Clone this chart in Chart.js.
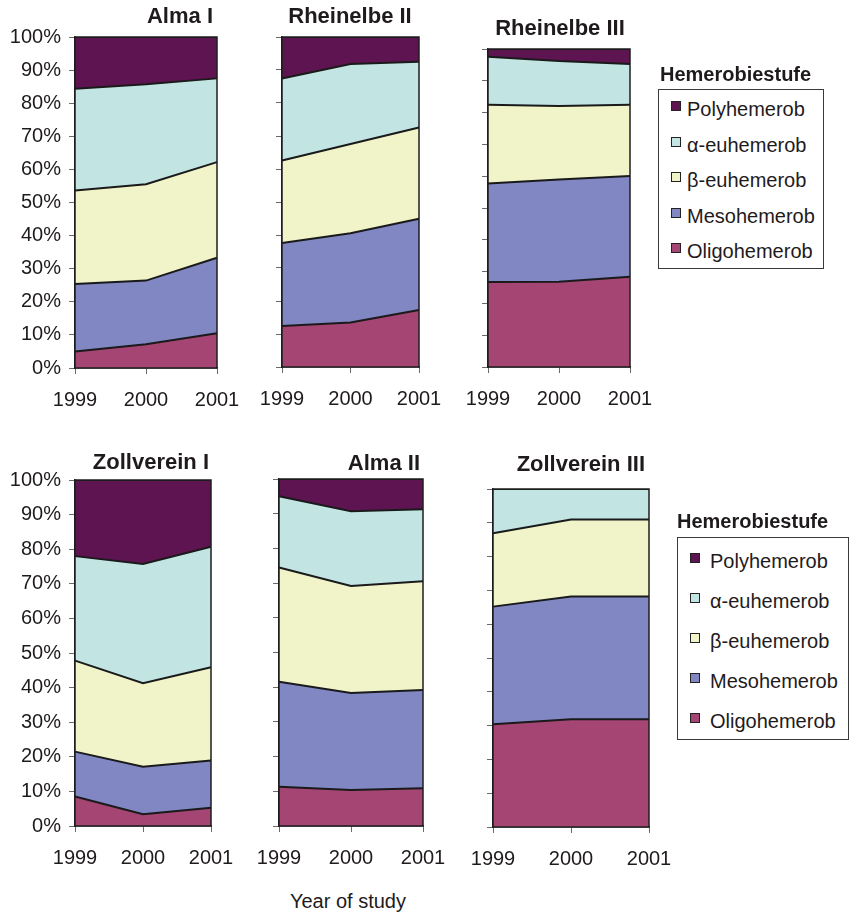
<!DOCTYPE html>
<html>
<head>
<meta charset="utf-8">
<script src="https://cdn.jsdelivr.net/npm/chart.js@4/dist/chart.umd.min.js"></script>
<style>
  html, body { margin: 0; padding: 0; background: #fff; }
  body { width: 850px; height: 916px; position: relative; overflow: hidden;
         font-family: "Liberation Sans", Arial, sans-serif; color: #1f1b1c; }
  canvas { position: absolute; }
  .txt { position: absolute; white-space: nowrap; line-height: 1; }
  .ttl { font-weight: bold; font-size: 22px; }
  .legbox { position: absolute; border: 1px solid #3a3a3a; background: #fff; box-sizing: border-box; }
  .sw { position: absolute; width: 10px; height: 10px; box-sizing: border-box; border: 1px solid #222; }
  .legtxt { font-size: 20px; }
  .legttl { font-size: 20px; font-weight: bold; }
</style>
</head>
<body>
<script>
// Study years (x categories)
const years = ['1999', '2000', '2001'];

// Hemeroby stages, listed from the bottom of the stack upwards
const stages = ['Oligohemerob', 'Mesohemerob', 'β-euhemerob', 'α-euhemerob', 'Polyhemerob'];

// Share of each stage per year, in percent
const alma1Oligo = [5.0, 7.2, 10.5];
const alma1Meso  = [20.4, 19.2, 22.8];
const alma1Beta  = [28.2, 29.1, 28.9];
const alma1Alpha = [30.8, 30.2, 25.3];
const alma1Poly  = [15.6, 14.3, 12.5];

const rhein2Oligo = [12.4, 13.5, 17.3];
const rhein2Meso  = [25.2, 27.0, 27.6];
const rhein2Beta  = [25.0, 27.1, 27.7];
const rhein2Alpha = [24.8, 24.2, 19.9];
const rhein2Poly  = [12.6, 8.2, 7.5];

const rhein3Oligo = [26.7, 26.8, 28.4];
const rhein3Meso  = [31.0, 32.2, 31.7];
const rhein3Beta  = [24.8, 23.1, 22.4];
const rhein3Alpha = [15.1, 14.1, 12.8];
const rhein3Poly  = [2.4, 3.8, 4.7];

const zoll1Oligo = [8.5, 3.4, 5.3];
const zoll1Meso  = [13.0, 13.7, 13.6];
const zoll1Beta  = [26.3, 24.2, 27.0];
const zoll1Alpha = [30.2, 34.4, 34.8];
const zoll1Poly  = [22.0, 24.3, 19.3];

const alma2Oligo = [11.3, 10.4, 10.9];
const alma2Meso  = [30.3, 27.9, 28.3];
const alma2Beta  = [32.9, 30.9, 31.3];
const alma2Alpha = [20.5, 21.5, 20.8];
const alma2Poly  = [5.0, 9.3, 8.7];

const zoll3Oligo = [30.4, 31.9, 31.9];
const zoll3Meso  = [34.8, 36.3, 36.3];
const zoll3Beta  = [21.7, 22.8, 22.8];
const zoll3Alpha = [13.1, 9.0, 9.0];
const zoll3Poly  = [0, 0, 0];

// Percent axis
const yMin = 0, yMax = 100, yStep = 10;

// Fill colour per stage (same order as stages)
const stageColors = ['#a44574', '#8087c3', '#f1f3c9', '#c2e5e4', '#5f1452'];

const sites = [
  { name: 'Alma I',         series: [alma1Oligo, alma1Meso, alma1Beta, alma1Alpha, alma1Poly] },
  { name: 'Rheinelbe II',   series: [rhein2Oligo, rhein2Meso, rhein2Beta, rhein2Alpha, rhein2Poly] },
  { name: 'Rheinelbe III',  series: [rhein3Oligo, rhein3Meso, rhein3Beta, rhein3Alpha, rhein3Poly] },
  { name: 'Zollverein I',   series: [zoll1Oligo, zoll1Meso, zoll1Beta, zoll1Alpha, zoll1Poly] },
  { name: 'Alma II',        series: [alma2Oligo, alma2Meso, alma2Beta, alma2Alpha, alma2Poly] },
  { name: 'Zollverein III', series: [zoll3Oligo, zoll3Meso, zoll3Beta, zoll3Alpha, zoll3Poly] }
];

// Page placement of each panel's plot area and its heading
const panelBoxes = [
  { L: 75,  T: 37,  R: 217, B: 368, yLabels: true,  tAlign: 'right',  tX: 213, tBase: 24 },
  { L: 282, T: 37,  R: 419, B: 367, yLabels: false, tAlign: 'center', tX: 350, tBase: 24 },
  { L: 488, T: 49,  R: 630, B: 367, yLabels: false, tAlign: 'center', tX: 560, tBase: 36 },
  { L: 75,  T: 480, R: 211, B: 826, yLabels: true,  tAlign: 'right',  tX: 209, tBase: 470 },
  { L: 279, T: 479, R: 423, B: 826, yLabels: false, tAlign: 'right',  tX: 420, tBase: 471 },
  { L: 493, T: 489, R: 649, B: 827, yLabels: false, tAlign: 'right',  tX: 645, tBase: 472 }
];

const FONT = '"Liberation Sans", Arial, sans-serif';
const SIDE = 60;   // spare room beside each plot for the outer year labels

// Frame around the plot area, drawn over the areas
const framePlugin = {
  id: 'frame',
  afterDatasetsDraw(chart) {
    const a = chart.chartArea, c = chart.ctx;
    c.save();
    c.strokeStyle = '#1e1e1e';
    c.lineWidth = 1.5;
    c.strokeRect(a.left, a.top, a.right - a.left, a.bottom - a.top);
    c.restore();
  }
};

function placeText(text, cls, size, baseline, x, align) {
  const d = document.createElement('div');
  d.className = 'txt ' + cls;
  d.textContent = text;
  d.style.fontSize = size + 'px';
  d.style.top = (baseline - size * 0.8465) + 'px';
  if (align === 'right') {
    d.style.right = (850 - x) + 'px';
  } else if (align === 'center') {
    d.style.left = (x - 200) + 'px';
    d.style.width = '400px';
    d.style.textAlign = 'center';
  } else {
    d.style.left = x + 'px';
  }
  document.body.appendChild(d);
  return d;
}

sites.forEach((site, i) => {
  const b = panelBoxes[i];
  const leftW = b.yLabels ? b.L : SIDE;
  const cx = b.L - leftW;
  const cy = b.T - 20;
  const W = b.R + SIDE - cx;
  const H = b.B + 50 - cy;
  const cv = document.createElement('canvas');
  cv.width = W; cv.height = H;
  cv.style.left = cx + 'px'; cv.style.top = cy + 'px';
  cv.style.width = W + 'px'; cv.style.height = H + 'px';
  document.body.appendChild(cv);

  new Chart(cv, {
    type: 'line',
    data: {
      labels: years,
      datasets: site.series.map((vals, k) => ({
        label: stages[k],
        data: vals,
        backgroundColor: stageColors[k],
        borderColor: '#1a1a1a',
        borderWidth: 2,
        pointRadius: 0,
        tension: 0,
        fill: k === 0 ? 'origin' : '-1'
      }))
    },
    options: {
      responsive: false,
      animation: false,
      devicePixelRatio: 1,
      layout: { padding: { left: 0, top: 20, right: SIDE, bottom: 0 } },
      plugins: { legend: { display: false }, title: { display: false }, tooltip: { enabled: false } },
      scales: {
        x: {
          offset: false,
          grid: { drawOnChartArea: false, drawTicks: true, tickLength: 6, color: '#6a6a6a', lineWidth: 1 },
          border: { display: true, color: '#1e1e1e', width: 1.5 },
          ticks: { font: { family: FONT, size: 20 }, color: '#1f1b1c', padding: 14, maxRotation: 0, autoSkip: false },
          afterFit: s => { s.height = 50; }
        },
        y: {
          stacked: true,
          min: yMin, max: yMax,
          grid: { drawOnChartArea: false, drawTicks: true, tickLength: 6, color: '#6a6a6a', lineWidth: 1 },
          border: { display: true, color: '#1e1e1e', width: 1.5 },
          ticks: {
            stepSize: yStep,
            display: b.yLabels,
            font: { family: FONT, size: 20 }, color: '#1f1b1c', padding: 8,
            callback: v => v + '%'
          },
          afterFit: s => { s.width = leftW; }
        }
      }
    },
    plugins: [framePlugin]
  });

  placeText(site.name, 'ttl', 22, b.tBase, b.tX, b.tAlign);
});

// Legends: one beside each row of panels
const legendBoxes = [
  { x: 658, y: 89,  w: 166, h: 180, titleX: 660, titleBase: 81,  swX: 671, txtX: 687, base0: 116, gap: 35.5 },
  { x: 677, y: 537, w: 172, h: 203, titleX: 677, titleBase: 528, swX: 690, txtX: 710, base0: 568, gap: 40 }
];

legendBoxes.forEach(lg => {
  placeText('Hemerobiestufe', 'legttl', 20, lg.titleBase, lg.titleX, 'left');
  const box = document.createElement('div');
  box.className = 'legbox';
  box.style.left = lg.x + 'px'; box.style.top = lg.y + 'px';
  box.style.width = lg.w + 'px'; box.style.height = lg.h + 'px';
  document.body.appendChild(box);
  // top of legend shows the uppermost stage first
  for (let r = 0; r < stages.length; r++) {
    const k = stages.length - 1 - r;
    const base = lg.base0 + r * lg.gap;
    const sw = document.createElement('div');
    sw.className = 'sw';
    sw.style.left = lg.swX + 'px';
    sw.style.top = (base - 15) + 'px';
    sw.style.background = stageColors[k];
    document.body.appendChild(sw);
    placeText(stages[k], 'legtxt', 20, base, lg.txtX, 'left');
  }
});

placeText('Year of study', 'legtxt', 20, 908, 348, 'center');
</script>
</body>
</html>
